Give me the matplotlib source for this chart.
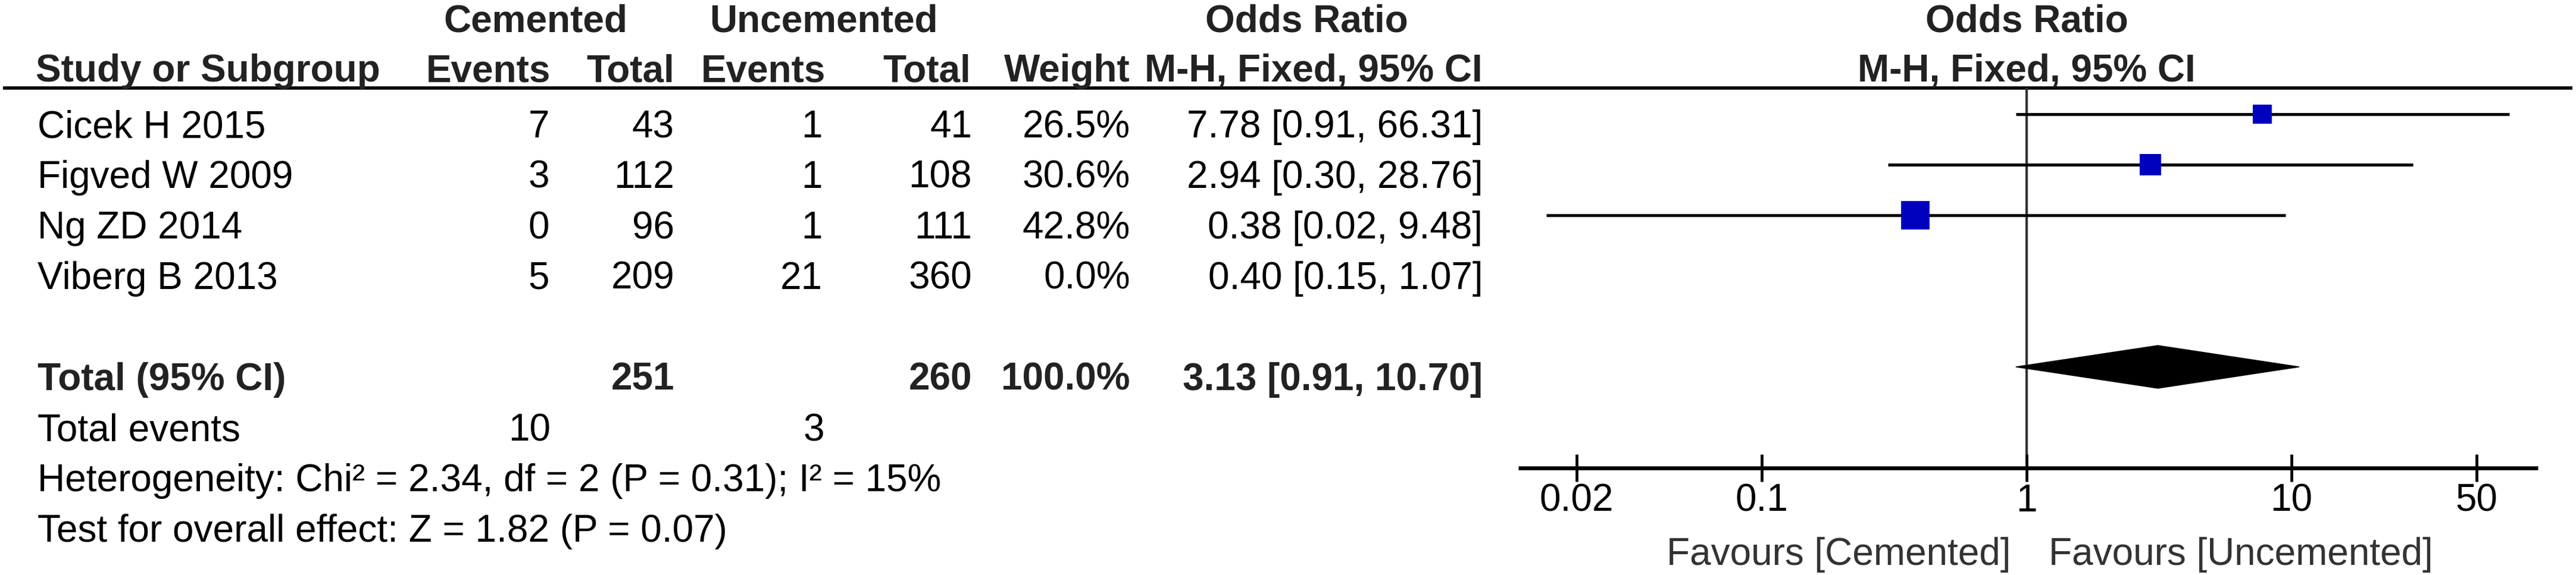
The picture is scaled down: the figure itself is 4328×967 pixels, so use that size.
import matplotlib
matplotlib.use("Agg")
import matplotlib.pyplot as plt
from matplotlib.patches import Polygon

# ---------------- data ----------------
studies = ["Cicek H 2015", "Figved W 2009", "Ng ZD 2014", "Viberg B 2013"]
cem_events = [7, 3, 0, 5]
cem_total = [43, 112, 96, 209]
unc_events = [1, 1, 1, 21]
unc_total = [41, 108, 111, 360]
weights = [26.5, 30.6, 42.8, 0.0]
odds_ratio = [7.78, 2.94, 0.38, 0.40]
ci_low = [0.91, 0.30, 0.0154, 0.15]
ci_high = [66.31, 28.76, 9.48, 1.07]
or_labels = ["7.78 [0.91, 66.31]", "2.94 [0.30, 28.76]",
             "0.38 [0.02, 9.48]", "0.40 [0.15, 1.07]"]

total_label = "Total (95% CI)"
total_cem = 251
total_unc = 260
total_weight = "100.0%"
total_or = 3.13
total_low = 0.91
total_high = 10.70
total_or_label = "3.13 [0.91, 10.70]"
events_cem = 10
events_unc = 3
het_text = "Heterogeneity: Chi² = 2.34, df = 2 (P = 0.31); I² = 15%"
effect_text = "Test for overall effect: Z = 1.82 (P = 0.07)"

tick_values = [0.02, 0.1, 1, 10, 50]
tick_labels = ["0.02", "0.1", "1", "10", "50"]
favours_left = "Favours [Cemented]"
favours_right = "Favours [Uncemented]"

# ---------------- layout ----------------
plt.rcParams["font.family"] = ["Liberation Sans", "DejaVu Sans"]
W, H = 4328, 967
FS = 46
fig = plt.figure(figsize=(W / 100, H / 100), dpi=100)
fig.patch.set_facecolor("white")

ax0 = fig.add_axes([0, 0, 1, 1])
ax0.set_xlim(0, W)
ax0.set_ylim(H, 0)
ax0.axis("off")

ROW0, ROWH, BASE = 192, 85, 39


def row_base(i):
    return ROW0 + ROWH * i + BASE


def txt(x, y, s, ha="left", bold=False, color="black"):
    ax0.text(x, y, s, ha=ha, va="baseline", fontsize=FS,
             fontweight="bold" if bold else "normal", color=color)


HC = "#222222"
# headers
txt(900, 53, "Cemented", ha="center", bold=True, color=HC)
txt(1384, 53, "Uncemented", ha="center", bold=True, color=HC)
txt(2195, 53, "Odds Ratio", ha="center", bold=True, color=HC)
txt(3405, 53, "Odds Ratio", ha="center", bold=True, color=HC)
txt(60, 137, "Study or Subgroup", bold=True, color=HC)
txt(925, 137, "Events", ha="right", bold=True, color=HC)
txt(1133, 137, "Total", ha="right", bold=True, color=HC)
txt(1387, 137, "Events", ha="right", bold=True, color=HC)
txt(1631, 137, "Total", ha="right", bold=True, color=HC)
txt(1899, 137, "Weight", ha="right", bold=True, color=HC)
txt(2491, 137, "M-H, Fixed, 95% CI", ha="right", bold=True, color=HC)
txt(3405, 137, "M-H, Fixed, 95% CI", ha="center", bold=True, color=HC)
ax0.plot([5, 4322], [148, 148], color="black", lw=4.0, solid_capstyle="butt")

# study rows
for i, name in enumerate(studies):
    y = row_base(i)
    txt(63, y, name)
    txt(923, y, str(cem_events[i]), ha="right")
    txt(1133, y, str(cem_total[i]), ha="right")
    txt(1382, y, str(unc_events[i]), ha="right")
    txt(1633, y, str(unc_total[i]), ha="right")
    txt(1899, y, f"{weights[i]:.1f}%", ha="right")
    txt(2491, y, or_labels[i], ha="right")

# total rows
yt = row_base(5)
txt(63, yt, total_label, bold=True, color=HC)
txt(1133, yt, str(total_cem), ha="right", bold=True, color=HC)
txt(1633, yt, str(total_unc), ha="right", bold=True, color=HC)
txt(1899, yt, total_weight, ha="right", bold=True, color=HC)
txt(2491, yt, total_or_label, ha="right", bold=True, color=HC)

ye = row_base(6)
txt(63, ye, "Total events")
txt(925, ye, str(events_cem), ha="right")
txt(1385, ye, str(events_unc), ha="right")
txt(63, row_base(7), het_text)
txt(63, row_base(8), effect_text)

# ---------------- forest plot ----------------
PX_ONE, PX_DEC = 3405, 445
XL, XR = 2551, 4264
YT, YB = 148, 787
axf = fig.add_axes([XL / W, 1 - YB / H, (XR - XL) / W, (YB - YT) / H])
axf.set_xscale("log")
axf.set_xlim(10 ** ((XL - PX_ONE) / PX_DEC), 10 ** ((XR - PX_ONE) / PX_DEC))
axf.set_ylim((YB - ROW0) / ROWH, (YT - ROW0) / ROWH)
axf.patch.set_alpha(0)
for s in ["top", "left", "right"]:
    axf.spines[s].set_visible(False)
axf.spines["bottom"].set_linewidth(4.7)
axf.spines["bottom"].set_capstyle("butt")
axf.set_yticks([])
axf.set_xticks(tick_values)
axf.set_xticklabels(tick_labels)
axf.minorticks_off()
axf.tick_params(axis="x", direction="inout", length=33, width=3.4,
                labelsize=FS, pad=2, colors="black")

axf.axvline(1, color="#333333", lw=3.0, zorder=1)

for i in range(len(studies)):
    if weights[i] <= 0:
        continue
    axf.plot([ci_low[i], ci_high[i]], [i, i], color="black", lw=3.6,
             solid_capstyle="butt", zorder=2)
    axf.plot([odds_ratio[i]], [i], marker="s", linestyle="none",
             markersize=(6 + weights[i]) * 0.72, color="#0000bf",
             markeredgewidth=0, zorder=3)

dh = 36 / ROWH
diamond = Polygon([(total_low, 5), (total_or, 5 - dh), (total_high, 5),
                   (total_or, 5 + dh)], closed=True, facecolor="black",
                  edgecolor="black", lw=1.0, zorder=3)
axf.add_patch(diamond)

# favours labels
ax0.text(3378, 950, favours_left, ha="right", va="baseline", fontsize=FS,
         color="#333333")
ax0.text(3442, 950, favours_right, ha="left", va="baseline", fontsize=FS,
         color="#333333")

fig.savefig("out.png", dpi=100, facecolor="white")
